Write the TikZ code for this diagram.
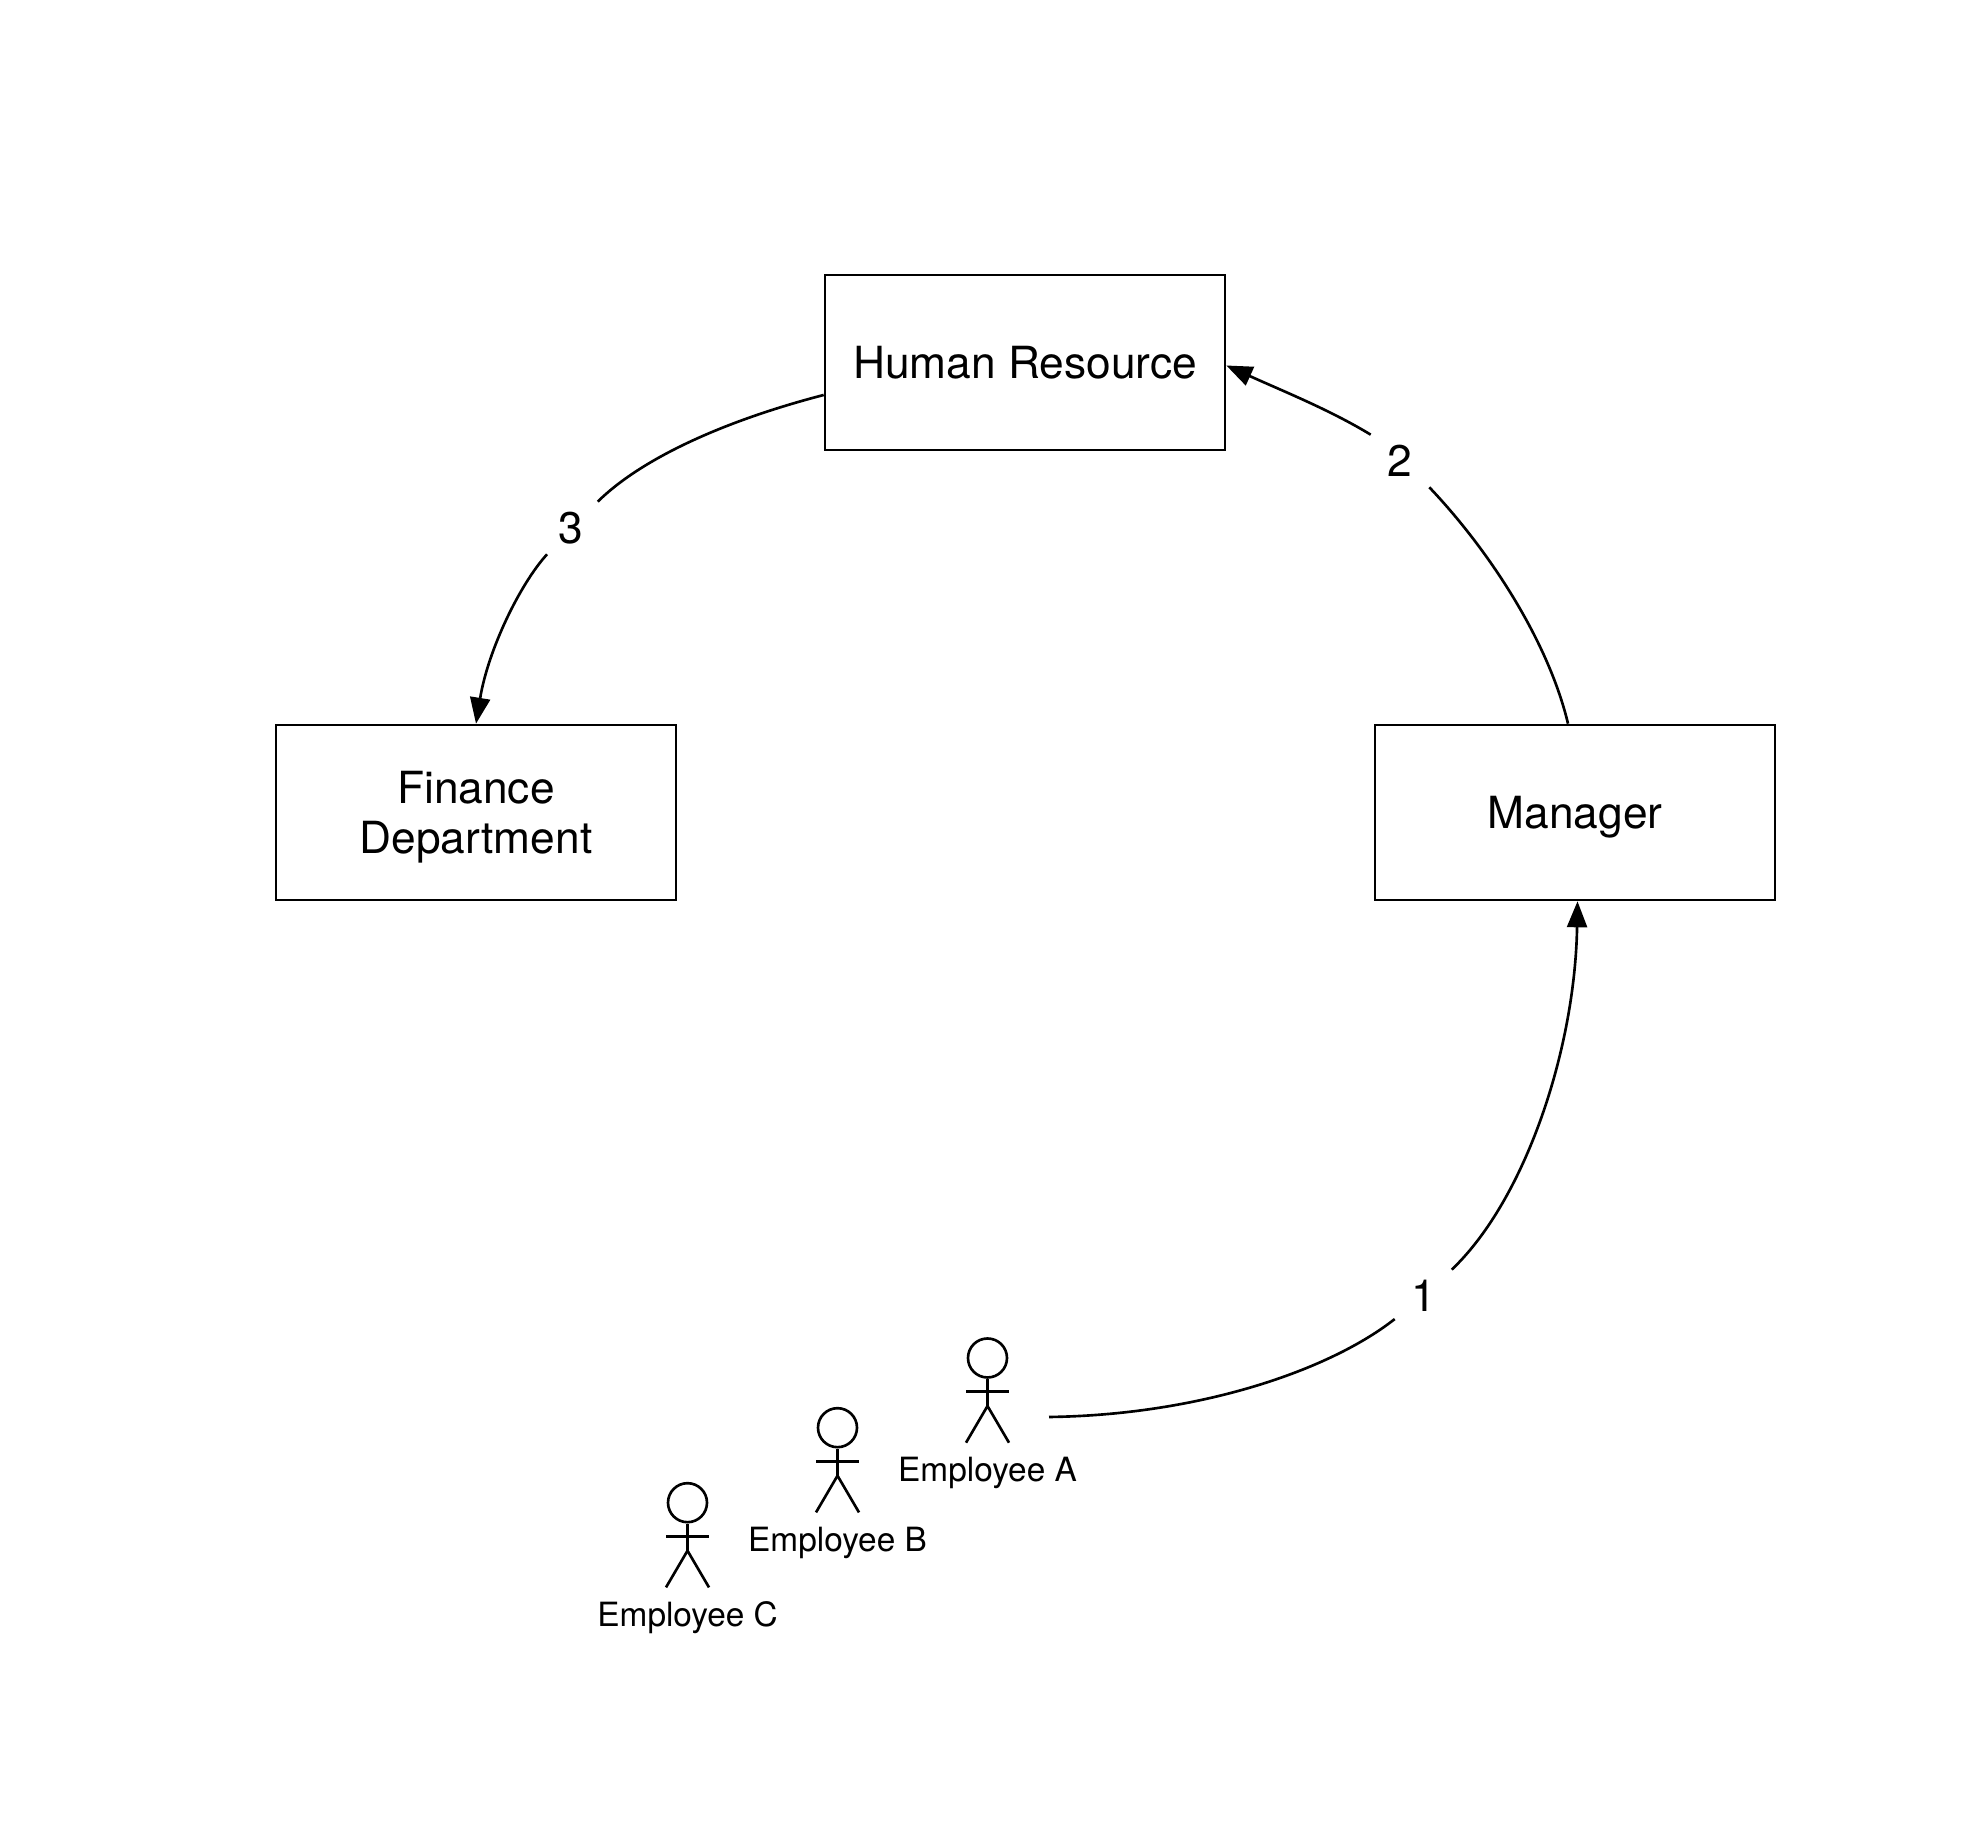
\documentclass[tikz,border=0pt]{standalone}
\usepackage{fontspec}
\setmainfont{TeX Gyre Heros}
\usetikzlibrary
  {
    arrows.meta,              % triangle arrow heads
  }

\begin{document}
\begin{tikzpicture}
    [
      every path/.style=
        {
          line width=0.75pt,
        },
      box/.style=
        {
          rectangle,
          draw=black,
          minimum width=4cm,
          minimum height=1.75cm,
          align=center,
          text depth=-0.7mm,
          font=\fontsize{12.6}{14.2}\selectfont,
        },
      step label/.style=
        {
          rectangle,
          minimum width=5.6mm,
          minimum height=5mm,
          inner sep=0pt,
          font=\fontsize{12.6}{14.2}\selectfont,
        },
      flow/.style=
        {
          -{Triangle[length=2.6mm,width=2mm]},
        },
      head/.style=
        {
          circle,
          draw=black,
          minimum size=3.9mm,
          inner sep=0pt,
        },
      employee/.pic=
        {
          \node[head] (-head) at (0,0) {};
          \draw (-head.south) -- (0,-0.48);
          \draw (-0.215,-0.337) -- (0.215,-0.337);
          \draw (-0.215,-0.847) -- (0,-0.48) -- (0.215,-0.847);
          \node[font=\fontsize{9.5}{11}\selectfont] (-name) at (0,-1.15) {\tikzpictext};
        },
    ]
    \useasboundingbox (0,0) rectangle (19.74,18.44);

    \node[box] (human resource) at (10.25,14.815) {Human Resource};
    \node[box] (finance)        at ( 4.76,10.315) {Finance\\Department};
    \node[box] (manager)        at (15.75,10.315) {Manager};

    \pic[pic text=Employee A] (employee a) at (9.875,4.86) {employee};
    \pic[pic text=Employee B] (employee b) at (8.375,4.163) {employee};
    \pic[pic text=Employee C] (employee c) at (6.875,3.413) {employee};

    \node[step label] (one)   at (14.24, 5.48) {1};
    \node[step label] (two)   at (14.00,13.83) {2};
    \node[step label] (three) at ( 5.71,13.16) {3};

    \coordinate (leaving a) at (10.49,4.27);

    % each connector is broken by its number
    \draw (leaving a) .. controls (12.00,4.29) and (13.30,4.74) .. (one);
    \draw[flow] (one) .. controls (15.25,6.44) and (15.75,7.94) .. ([xshift=0.25mm]manager.south);

    \draw ([xshift=-0.7mm]manager.north) .. controls (15.48,12.04) and (14.88,12.95) .. (two.south east);
    \draw[flow] (two.north west) .. controls (13.30,14.34) and (12.85,14.52) .. ([yshift=-0.3mm]human resource.east);

    \draw ([yshift=-3.25mm]human resource.west) .. controls (7.20,14.22) and (6.40,13.84) .. (three);
    \draw[flow] (three) .. controls (5.20,12.60) and (4.88,11.94) .. (finance.north);
\end{tikzpicture}
\end{document}
